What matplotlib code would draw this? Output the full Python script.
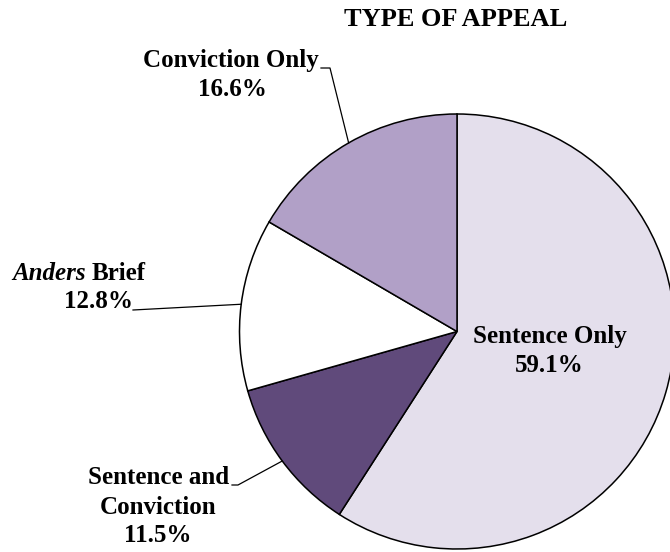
import numpy as np
import matplotlib
matplotlib.use("Agg")
import matplotlib.pyplot as plt

# Appeal types, clockwise from 12 o'clock
categories = ["Sentence Only", "Sentence and Conviction", "Anders Brief", "Conviction Only"]
shares = [59.1, 11.5, 12.8, 16.6]
pct_labels = ["59.1%", "11.5%", "12.8%", "16.6%"]
colors = ["#E4DFEC", "#604A7B", "#FFFFFF", "#B1A0C7"]

W, H = 670, 552
fig = plt.figure(figsize=(W / 100, H / 100), dpi=100)
ax = fig.add_axes([0, 0, 1, 1])

cx, cy, r = 457, H - 331.5, 217.5
wedges, _ = ax.pie(shares, colors=colors, startangle=90, counterclock=False,
                   center=(cx, cy), radius=r, frame=True,
                   wedgeprops=dict(edgecolor="black", linewidth=1.1))
ax.set_xlim(0, W)
ax.set_ylim(0, H)
ax.set_aspect("equal")
ax.axis("off")

font = dict(family="Liberation Serif", fontweight="bold", fontsize=18, color="black")

def edge_point(w):
    mid = np.deg2rad((w.theta1 + w.theta2) / 2)
    return cx + r * np.cos(mid), cy + r * np.sin(mid)

# title
ax.text(456, H - 19, "TYPE OF APPEAL", ha="center", va="center",
        **{**font, "fontsize": 19})

# Sentence Only (inside)
ax.text(550, H - 337, categories[0], ha="center", va="center", **font)
ax.text(549, H - 366, pct_labels[0], ha="center", va="center", **font)

# Conviction Only
ax.text(231, H - 60, categories[3], ha="center", va="center", **font)
ax.text(232, H - 89, pct_labels[3], ha="center", va="center", **font)
ex, ey = edge_point(wedges[3])
ax.plot([321, 330, ex], [H - 68, H - 68, ey], color="black", lw=0.9)

# Anders Brief (case name in italics)
fig.canvas.draw()
rend = fig.canvas.get_renderer()
t1 = ax.text(12, H - 273, "Anders", ha="left", va="center", fontstyle="italic", **font)
bb = t1.get_window_extent(renderer=rend)
x_after = ax.transData.inverted().transform((bb.x1, bb.y0))[0]
ax.text(x_after + 6, H - 273, "Brief", ha="left", va="center", **font)
ax.text(98, H - 302, pct_labels[2], ha="center", va="center", **font)
ex, ey = edge_point(wedges[2])
ax.plot([133, ex], [H - 310, ey], color="black", lw=0.9)

# Sentence and Conviction
ax.text(159, H - 478, "Sentence and", ha="center", va="center", **font)
ax.text(158, H - 507, "Conviction", ha="center", va="center", **font)
ax.text(158, H - 535, pct_labels[1], ha="center", va="center", **font)
ex, ey = edge_point(wedges[1])
ax.plot([232, 238, ex], [H - 485, H - 485, ey], color="black", lw=0.9)

fig.savefig("out.png", dpi=100, facecolor="white")
